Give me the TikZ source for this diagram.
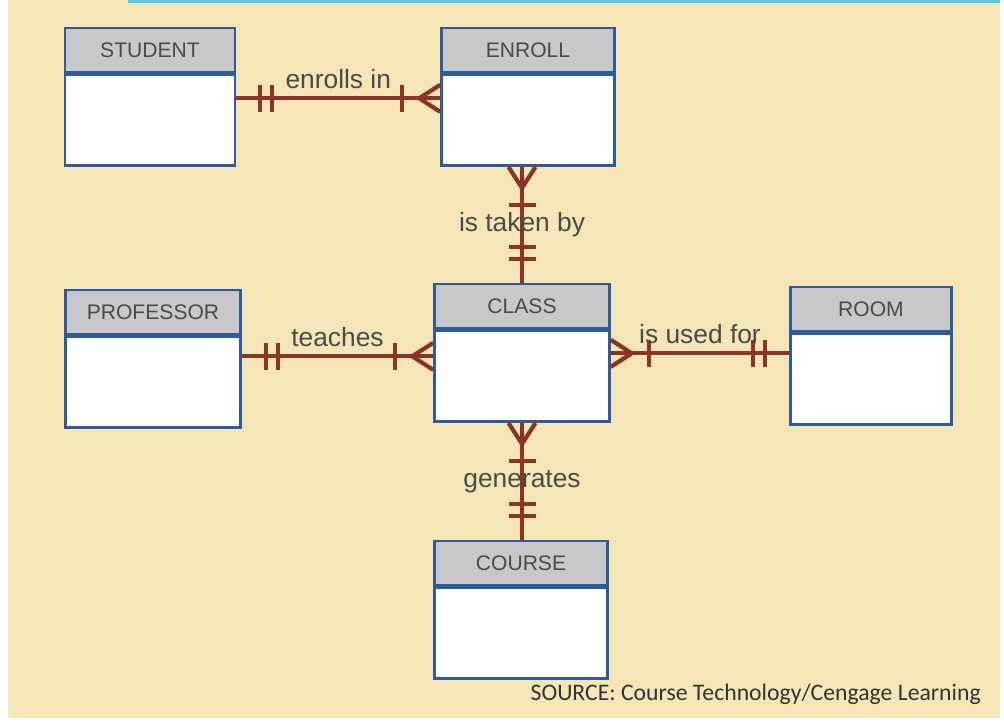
\documentclass[tikz,border=0pt]{standalone}
\usepackage{fontspec}
\setmainfont{Liberation Sans}
\newfontfamily\sourcefont{Carlito}
\usepackage{xcolor}
\usetikzlibrary{positioning, decorations.markings}
\definecolor{paper}{HTML}{F6E5B6}
\definecolor{topline}{HTML}{5BC8E6}
\definecolor{boxblue}{HTML}{2C5C9C}
\definecolor{headgray}{HTML}{C8C8CA}
\definecolor{relred}{HTML}{8A3428}
\definecolor{inkgray}{HTML}{4A4A4A}
\tikzset{
    x=0.02cm, y=-0.02cm, % one unit is one pixel, counted downwards
    head/.style={draw=boxblue, fill=headgray, line width=1.5pt, minimum width=#1, minimum height=0.88cm, inner sep=0pt, text=inkgray, font=\fontsize{12}{14}\selectfont}, % title bar of an entity
    body/.style={draw=boxblue, fill=white, line width=1.5pt, minimum width=#1, minimum height=1.82cm}, % the empty part under it
    rel/.style={draw=relred, line width=2.2pt}, % relationship line
    tick/.style={draw=relred, line width=2.4pt},
    verb/.style={text=inkgray, inner sep=0pt, font=\fontsize{15}{18}\selectfont}, % relationship name
    one start/.style={postaction={decorate, decoration={markings,
        mark=at position 0.48cm with {\draw[tick] (0,-0.27cm) -- (0,0.27cm);},
        mark=at position 0.72cm with {\draw[tick] (0,-0.27cm) -- (0,0.27cm);}}}},
    one end/.style={postaction={decorate, decoration={markings,
        mark=at position -0.72cm with {\draw[tick] (0,-0.27cm) -- (0,0.27cm);},
        mark=at position -0.48cm with {\draw[tick] (0,-0.27cm) -- (0,0.27cm);}}}},
    many start/.style={postaction={decorate, decoration={markings,
        mark=at position 0 with {\draw[tick] (0.42cm,0) -- (0,0.27cm) (0.42cm,0) -- (0,-0.27cm);},
        mark=at position 0.76cm with {\draw[tick] (0,-0.27cm) -- (0,0.27cm);}}}},
    many end/.style={postaction={decorate, decoration={markings,
        mark=at position -0.76cm with {\draw[tick] (0,-0.27cm) -- (0,0.27cm);},
        mark=at position 1 with {\draw[tick] (-0.42cm,0) -- (0,0.27cm) (-0.42cm,0) -- (0,-0.27cm);}}}},
}

\begin{document}
\begin{tikzpicture}
    \useasboundingbox (0,0) rectangle (1004,721);
    \fill[white] (0,0) rectangle (1004,721);
    \fill[paper] (8,0) rectangle (1000,718);
    \fill[topline] (128,0) rectangle (1000,2.5);

    \node[head=3.4cm] (student) at (150,50) {STUDENT};
    \node[body=3.4cm, below=0pt of student] (studentb) {};
    \node[head=3.46cm] (enroll) at (528,50) {ENROLL};
    \node[body=3.46cm, below=0pt of enroll] (enrollb) {};
    \node[head=3.5cm] (professor) at (153,312) {PROFESSOR};
    \node[body=3.5cm, below=0pt of professor] (professorb) {};
    \node[head=3.5cm] (class) at (522,306) {CLASS};
    \node[body=3.5cm, below=0pt of class] (classb) {};
    \node[head=3.22cm] (room) at (871,309) {ROOM};
    \node[body=3.22cm, below=0pt of room] (roomb) {};
    \node[head=3.46cm] (course) at (521,563) {COURSE};
    \node[body=3.46cm, below=0pt of course] (courseb) {};

    \coordinate (teach) at ([yshift=-0.42cm]professorb.north east);
    \coordinate (use) at ([yshift=-0.48cm]classb.north east);

    \path
    ([yshift=-0.5cm]studentb.north east) edge[rel, one start, many end] node[verb, above=0.16cm] {enrolls in} ([yshift=-0.5cm]enrollb.north west)
    (enrollb.south -| class.north) edge[rel, many start, one end] node[verb] {is taken by} (class.north)
    (teach) edge[rel, one start, many end] node[verb, above=0.16cm] {teaches} (teach -| classb.west)
    (use) edge[rel, many start, one end] node[verb, above=0.16cm] {is used for} (use -| roomb.west)
    (classb.south) edge[rel, many start, one end] node[verb] {generates} (classb.south |- course.north);

    \node[anchor=east, text=black!80, font=\sourcefont\fontsize{13.5}{16}\selectfont] (source) at (987,694) {SOURCE: Course Technology/Cengage Learning};
\end{tikzpicture}
\end{document}
